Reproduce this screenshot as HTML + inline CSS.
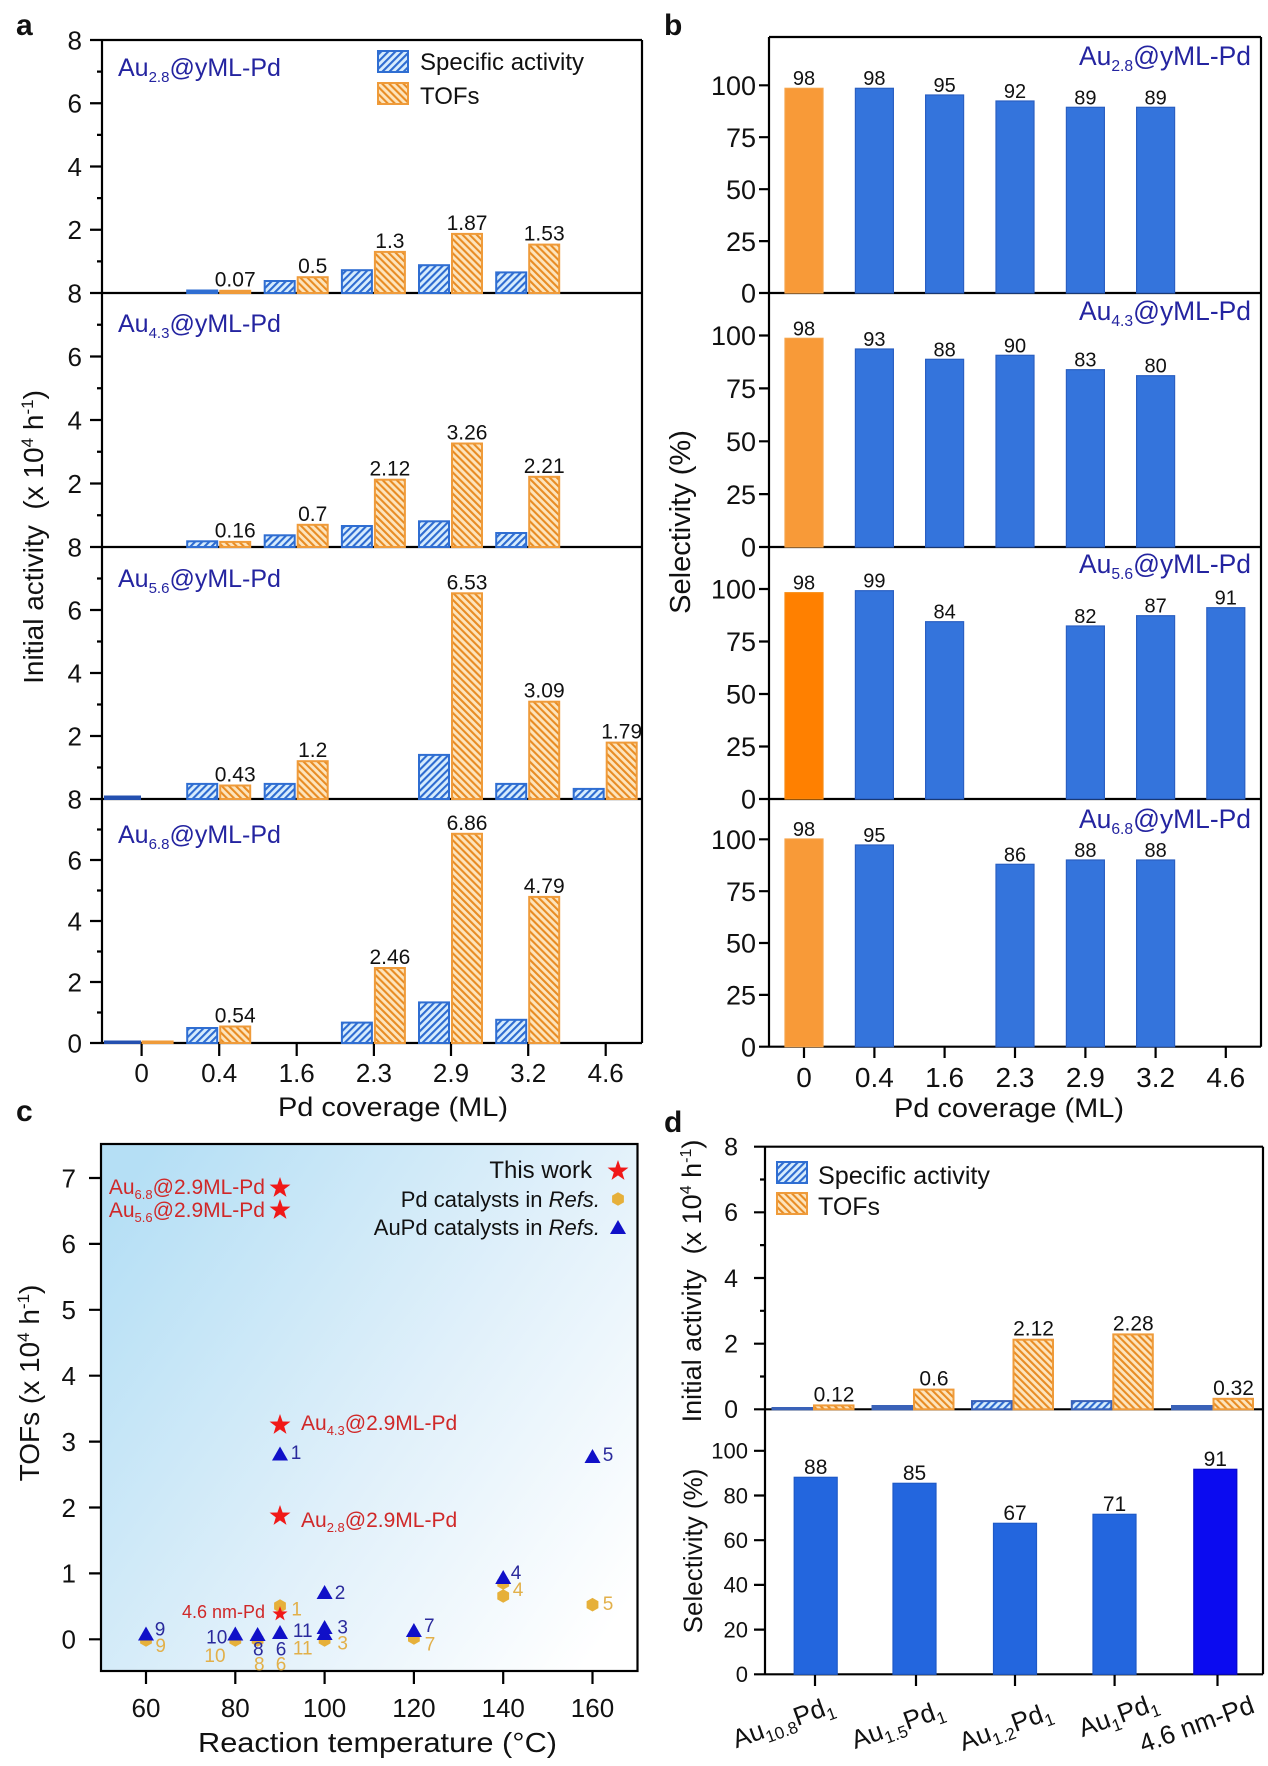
<!DOCTYPE html>
<html><head><meta charset="utf-8"><style>
html,body{margin:0;padding:0;background:#fff}
svg{display:block}
text{font-family:"Liberation Sans",Arial,sans-serif;fill:#111}
</style></head><body>
<svg width="1268" height="1766" viewBox="0 0 1268 1766" xmlns="http://www.w3.org/2000/svg">
<defs>
<pattern id="hb" patternUnits="userSpaceOnUse" width="5" height="5" patternTransform="rotate(45)">
<rect width="5" height="5" fill="#d6ecfd"/><rect width="2.1" height="5" fill="#2d6bd0"/></pattern>
<pattern id="ho" patternUnits="userSpaceOnUse" width="5" height="5" patternTransform="rotate(-45)">
<rect width="5" height="5" fill="#fde4bc"/><rect width="2.1" height="5" fill="#e88c24"/></pattern>
<linearGradient id="cg" x1="0" y1="0.15" x2="1" y2="0.85">
<stop offset="0" stop-color="#b5dff5"/><stop offset="0.55" stop-color="#e0f0fa"/><stop offset="1" stop-color="#ffffff"/></linearGradient>
<path id="star" d="M0,-11 L2.59,-3.56 L10.46,-3.4 L4.19,1.36 L6.47,8.9 L0,4.4 L-6.47,8.9 L-4.19,1.36 L-10.46,-3.4 L-2.59,-3.56Z" fill="#f01818"/>
<path id="tri" d="M-8,6 L8,6 L0,-8Z" fill="#1010c8"/>
<path id="hex" d="M0,-6.8 L5.9,-3.4 L5.9,3.4 L0,6.8 L-5.9,3.4 L-5.9,-3.4Z" fill="#e6b03a"/>
</defs>

<!-- ================= PANEL A ================= -->
<text x="16" y="35" font-size="30" font-weight="bold">a</text>
<g stroke="#000" stroke-width="2.2" fill="none">
<line x1="102" y1="40" x2="102" y2="1043"/>
<line x1="642" y1="40" x2="642" y2="1043"/>
<line x1="90" y1="40" x2="642" y2="40"/>
<line x1="90" y1="293" x2="642" y2="293"/>
<line x1="90" y1="547" x2="642" y2="547"/>
<line x1="90" y1="799" x2="642" y2="799"/>
<line x1="90" y1="1043" x2="642" y2="1043"/>
<path d="M90,229.75H102M90,166.5H102M90,103.25H102M90,483.5H102M90,420H102M90,356.5H102M90,736H102M90,673H102M90,610H102M90,982H102M90,921H102M90,860H102"/>
<path d="M97,261.4H102M97,198.1H102M97,134.9H102M97,71.6H102M97,515.25H102M97,451.75H102M97,388.25H102M97,324.75H102M97,767.5H102M97,704.5H102M97,641.5H102M97,578.5H102M97,1012.5H102M97,951.5H102M97,890.5H102M97,829.5H102"/>
<path d="M141.6,1043V1056M219.2,1043V1056M296.7,1043V1056M373.9,1043V1056M451,1043V1056M528.2,1043V1056M605.7,1043V1056"/>
</g>
<g font-size="26" text-anchor="end">
<text x="82" y="49.3">8</text><text x="82" y="112.6">6</text><text x="82" y="175.8">4</text><text x="82" y="239.1">2</text><text x="82" y="302.3">8</text>
<text x="82" y="365.8">6</text><text x="82" y="429.3">4</text><text x="82" y="492.8">2</text><text x="82" y="556.3">8</text>
<text x="82" y="619.3">6</text><text x="82" y="682.3">4</text><text x="82" y="745.3">2</text><text x="82" y="808.3">8</text>
<text x="82" y="869.3">6</text><text x="82" y="930.3">4</text><text x="82" y="991.3">2</text><text x="82" y="1052.3">0</text>
</g>
<g font-size="26" text-anchor="middle">
<text x="141.6" y="1082">0</text><text x="219.2" y="1082">0.4</text><text x="296.7" y="1082">1.6</text><text x="373.9" y="1082">2.3</text><text x="451" y="1082">2.9</text><text x="528.2" y="1082">3.2</text><text x="605.7" y="1082">4.6</text>
<text x="393" y="1116" font-size="27" textLength="230" lengthAdjust="spacingAndGlyphs">Pd coverage (ML)</text>
</g>
<text transform="translate(43,537) rotate(-90)" text-anchor="middle" font-size="28">Initial activity&#160;&#160;(x 10<tspan dy="-10" font-size="17">4</tspan><tspan dy="10"> h</tspan><tspan dy="-10" font-size="17">-1</tspan><tspan dy="10">)</tspan></text>

<!-- series labels a -->
<g font-size="25">
<text x="118" y="76" style="fill:#2424a0">Au<tspan font-size="15" dy="6">2.8</tspan><tspan dy="-6">@yML-Pd</tspan></text>
<text x="118" y="332" style="fill:#2424a0">Au<tspan font-size="15" dy="6">4.3</tspan><tspan dy="-6">@yML-Pd</tspan></text>
<text x="118" y="587" style="fill:#2424a0">Au<tspan font-size="15" dy="6">5.6</tspan><tspan dy="-6">@yML-Pd</tspan></text>
<text x="118" y="843" style="fill:#2424a0">Au<tspan font-size="15" dy="6">6.8</tspan><tspan dy="-6">@yML-Pd</tspan></text>
</g>
<!-- legend a -->
<rect x="378" y="51" width="30" height="21" fill="url(#hb)" stroke="#2f6ed2" stroke-width="2"/>
<rect x="378" y="83" width="30" height="21" fill="url(#ho)" stroke="#ef9b3a" stroke-width="2"/>
<text x="420" y="70" font-size="24">Specific activity</text>
<text x="420" y="104" font-size="24">TOFs</text>

<!-- bars a -->
<g stroke-width="2">
<g fill="url(#hb)" stroke="#2f6ed2">
<rect x="187.2" y="290.5" width="30" height="2.5" fill="#2f6ed2"/>
<rect x="264.7" y="281" width="30" height="12"/>
<rect x="341.9" y="270.2" width="30" height="22.8"/>
<rect x="419" y="265.2" width="30" height="27.8"/>
<rect x="496.2" y="272.4" width="30" height="20.6"/>
</g>
<g fill="url(#ho)" stroke="#ef9b3a">
<rect x="220.2" y="290.8" width="30" height="2.2" fill="#ef9b3a"/>
<rect x="297.7" y="277.2" width="30" height="15.8"/>
<rect x="374.9" y="251.9" width="30" height="41.1"/>
<rect x="452" y="233.9" width="30" height="59.1"/>
<rect x="529.2" y="244.6" width="30" height="48.4"/>
</g>
<g fill="url(#hb)" stroke="#2f6ed2">
<rect x="187.2" y="541.3" width="30" height="5.7"/>
<rect x="264.7" y="535.3" width="30" height="11.7"/>
<rect x="341.9" y="526" width="30" height="21"/>
<rect x="419" y="521.3" width="30" height="25.7"/>
<rect x="496.2" y="533" width="30" height="14"/>
</g>
<g fill="url(#ho)" stroke="#ef9b3a">
<rect x="220.2" y="541.9" width="30" height="5.1"/>
<rect x="297.7" y="524.8" width="30" height="22.2"/>
<rect x="374.9" y="479.7" width="30" height="67.3"/>
<rect x="452" y="443.5" width="30" height="103.5"/>
<rect x="529.2" y="476.8" width="30" height="70.2"/>
</g>
<g fill="url(#hb)" stroke="#2f6ed2">
<rect x="105" y="796.5" width="35" height="2.5" fill="#2450b0" stroke="#2450b0"/>
<rect x="187.2" y="783.9" width="30" height="15.1"/>
<rect x="264.7" y="783.9" width="30" height="15.1"/>
<rect x="419" y="754.9" width="30" height="44.1"/>
<rect x="496.2" y="783.9" width="30" height="15.1"/>
<rect x="573.7" y="788.9" width="30" height="10.1"/>
</g>
<g fill="url(#ho)" stroke="#ef9b3a">
<rect x="220.2" y="785.5" width="30" height="13.5"/>
<rect x="297.7" y="761.2" width="30" height="37.8"/>
<rect x="452" y="593.3" width="30" height="205.7"/>
<rect x="529.2" y="701.7" width="30" height="97.3"/>
<rect x="606.7" y="742.6" width="30" height="56.4"/>
</g>
<g fill="url(#hb)" stroke="#2f6ed2">
<rect x="105" y="1041.5" width="35" height="1.5" fill="#2450b0" stroke="#2450b0"/>
<rect x="187.2" y="1028" width="30" height="15"/>
<rect x="341.9" y="1022.6" width="30" height="20.4"/>
<rect x="419" y="1002.4" width="30" height="40.6"/>
<rect x="496.2" y="1019.8" width="30" height="23.2"/>
</g>
<g fill="url(#ho)" stroke="#ef9b3a">
<rect x="142.6" y="1041.5" width="30" height="1.5" fill="#ef9b3a"/>
<rect x="220.2" y="1026.5" width="30" height="16.5"/>
<rect x="374.9" y="968" width="30" height="75"/>
<rect x="452" y="833.8" width="30" height="209.2"/>
<rect x="529.2" y="896.9" width="30" height="146.1"/>
</g>
</g>
<g font-size="21" text-anchor="middle">
<text x="235.2" y="286.5">0.07</text><text x="312.7" y="273">0.5</text><text x="389.9" y="248">1.3</text><text x="467" y="230">1.87</text><text x="544.2" y="240.6">1.53</text>
<text x="235.2" y="537.5">0.16</text><text x="312.7" y="520.8">0.7</text><text x="389.9" y="475.7">2.12</text><text x="467" y="439.5">3.26</text><text x="544.2" y="472.8">2.21</text>
<text x="235.2" y="781.5">0.43</text><text x="312.7" y="757.2">1.2</text><text x="467" y="589.3">6.53</text><text x="544.2" y="697.7">3.09</text><text x="621.7" y="738.6">1.79</text>
<text x="235.2" y="1022.5">0.54</text><text x="389.9" y="964">2.46</text><text x="467" y="829.8">6.86</text><text x="544.2" y="892.9">4.79</text>
</g>

<!-- ================= PANEL B ================= -->
<text x="664" y="35" font-size="30" font-weight="bold">b</text>
<g stroke="#000" stroke-width="2.2" fill="none">
<line x1="769" y1="37" x2="769" y2="1046.7"/>
<line x1="1261" y1="37" x2="1261" y2="1046.7"/>
<line x1="769" y1="37" x2="1261" y2="37"/>
<line x1="759" y1="293" x2="1261" y2="293"/>
<line x1="759" y1="547" x2="1261" y2="547"/>
<line x1="759" y1="799" x2="1261" y2="799"/>
<line x1="759" y1="1046.7" x2="1261" y2="1046.7"/>
<path d="M759,241.1H769M759,189.2H769M759,137.2H769M759,85.3H769M759,494.1H769M759,441.3H769M759,388.4H769M759,335.5H769M759,746.5H769M759,694H769M759,641.5H769M759,589H769M759,994.9H769M759,943H769M759,891.2H769M759,839.3H769"/>
<path d="M804,1046.7V1058M874.4,1046.7V1058M944.6,1046.7V1058M1015,1046.7V1058M1085.4,1046.7V1058M1155.6,1046.7V1058M1225.8,1046.7V1058"/>
</g>
<g font-size="27" text-anchor="end">
<text x="756" y="95">100</text><text x="756" y="146.9">75</text><text x="756" y="198.9">50</text><text x="756" y="250.8">25</text><text x="756" y="302.7">0</text>
<text x="756" y="345.2">100</text><text x="756" y="398.1">75</text><text x="756" y="451">50</text><text x="756" y="503.8">25</text><text x="756" y="556.7">0</text>
<text x="756" y="598.7">100</text><text x="756" y="651.2">75</text><text x="756" y="703.7">50</text><text x="756" y="756.2">25</text><text x="756" y="808.7">0</text>
<text x="756" y="849">100</text><text x="756" y="900.9">75</text><text x="756" y="952.7">50</text><text x="756" y="1004.6">25</text><text x="756" y="1056.4">0</text>
</g>
<g font-size="28" text-anchor="middle">
<text x="804" y="1087">0</text><text x="874.4" y="1087">0.4</text><text x="944.6" y="1087">1.6</text><text x="1015" y="1087">2.3</text><text x="1085.4" y="1087">2.9</text><text x="1155.6" y="1087">3.2</text><text x="1225.8" y="1087">4.6</text>
<text x="1009" y="1117" font-size="27" textLength="230" lengthAdjust="spacingAndGlyphs">Pd coverage (ML)</text>
</g>
<text transform="translate(690,522) rotate(-90)" text-anchor="middle" font-size="29">Selectivity (%)</text>
<g font-size="27" text-anchor="end">
<text x="1251" y="65" textLength="172" lengthAdjust="spacingAndGlyphs" style="fill:#2424a0">Au<tspan font-size="16" dy="6">2.8</tspan><tspan dy="-6">@yML-Pd</tspan></text>
<text x="1251" y="320" textLength="172" lengthAdjust="spacingAndGlyphs" style="fill:#2424a0">Au<tspan font-size="16" dy="6">4.3</tspan><tspan dy="-6">@yML-Pd</tspan></text>
<text x="1251" y="573" textLength="172" lengthAdjust="spacingAndGlyphs" style="fill:#2424a0">Au<tspan font-size="16" dy="6">5.6</tspan><tspan dy="-6">@yML-Pd</tspan></text>
<text x="1251" y="828" textLength="172" lengthAdjust="spacingAndGlyphs" style="fill:#2424a0">Au<tspan font-size="16" dy="6">6.8</tspan><tspan dy="-6">@yML-Pd</tspan></text>
</g>
<g stroke-width="1.2">
<rect x="785" y="88.3" width="38" height="204.7" fill="#f89a38" stroke="#f6a44a"/>
<g fill="#3474dc" stroke="#2a5fc2">
<rect x="855.4" y="88.3" width="38" height="204.7"/>
<rect x="925.6" y="95" width="38" height="198"/>
<rect x="996" y="101" width="38" height="192"/>
<rect x="1066.4" y="107.3" width="38" height="185.7"/>
<rect x="1136.6" y="107.3" width="38" height="185.7"/>
</g>
<rect x="785" y="338.3" width="38" height="208.7" fill="#f89a38" stroke="#f6a44a"/>
<g fill="#3474dc" stroke="#2a5fc2">
<rect x="855.4" y="349" width="38" height="198"/>
<rect x="925.6" y="359.3" width="38" height="187.7"/>
<rect x="996" y="355.3" width="38" height="191.7"/>
<rect x="1066.4" y="369.7" width="38" height="177.3"/>
<rect x="1136.6" y="375.7" width="38" height="171.3"/>
</g>
<rect x="785" y="592.7" width="38" height="206.3" fill="#ff8000" stroke="#f88a10"/>
<g fill="#3474dc" stroke="#2a5fc2">
<rect x="855.4" y="590.7" width="38" height="208.3"/>
<rect x="925.6" y="621.7" width="38" height="177.3"/>
<rect x="1066.4" y="626" width="38" height="173"/>
<rect x="1136.6" y="615.7" width="38" height="183.3"/>
<rect x="1206.8" y="607.7" width="38" height="191.3"/>
</g>
<rect x="785" y="839" width="38" height="207.7" fill="#f89a38" stroke="#f6a44a"/>
<g fill="#3474dc" stroke="#2a5fc2">
<rect x="855.4" y="845" width="38" height="201.7"/>
<rect x="996" y="864.3" width="38" height="182.4"/>
<rect x="1066.4" y="860" width="38" height="186.7"/>
<rect x="1136.6" y="860" width="38" height="186.7"/>
</g>
</g>
<g font-size="20" text-anchor="middle">
<text x="804" y="85">98</text><text x="874.4" y="85">98</text><text x="944.6" y="92">95</text><text x="1015" y="98">92</text><text x="1085.4" y="104.3">89</text><text x="1155.6" y="104.3">89</text>
<text x="804" y="335.3">98</text><text x="874.4" y="346">93</text><text x="944.6" y="356.3">88</text><text x="1015" y="352.3">90</text><text x="1085.4" y="366.7">83</text><text x="1155.6" y="372.7">80</text>
<text x="804" y="589.7">98</text><text x="874.4" y="587.7">99</text><text x="944.6" y="618.7">84</text><text x="1085.4" y="623">82</text><text x="1155.6" y="612.7">87</text><text x="1225.8" y="604.7">91</text>
<text x="804" y="836">98</text><text x="874.4" y="842">95</text><text x="1015" y="861.3">86</text><text x="1085.4" y="857">88</text><text x="1155.6" y="857">88</text>
</g>

<!-- ================= PANEL C ================= -->
<text x="16" y="1121" font-size="30" font-weight="bold">c</text>
<rect x="101" y="1144" width="536.5" height="527" fill="url(#cg)" stroke="#000" stroke-width="2.2"/>
<g stroke="#000" stroke-width="2.2">
<path d="M89,1639.3H101M89,1573.4H101M89,1507.5H101M89,1441.6H101M89,1375.7H101M89,1309.8H101M89,1243.9H101M89,1178H101"/>
<path d="M146,1671V1684M235.3,1671V1684M324.6,1671V1684M413.9,1671V1684M503.2,1671V1684M592.5,1671V1684"/>
</g>
<g font-size="26" text-anchor="end">
<text x="76" y="1648.6">0</text><text x="76" y="1582.7">1</text><text x="76" y="1516.8">2</text><text x="76" y="1450.9">3</text><text x="76" y="1385">4</text><text x="76" y="1319.1">5</text><text x="76" y="1253.2">6</text><text x="76" y="1187.3">7</text>
</g>
<g font-size="26" text-anchor="middle">
<text x="146" y="1717">60</text><text x="235.3" y="1717">80</text><text x="324.6" y="1717">100</text><text x="413.9" y="1717">120</text><text x="503.2" y="1717">140</text><text x="592.5" y="1717">160</text>
<text x="377.5" y="1752" font-size="28" textLength="359" lengthAdjust="spacingAndGlyphs">Reaction temperature (°C)</text>
</g>
<text transform="translate(39,1383) rotate(-90)" text-anchor="middle" font-size="28">TOFs (x 10<tspan dy="-10" font-size="17">4</tspan><tspan dy="10"> h</tspan><tspan dy="-10" font-size="17">-1</tspan><tspan dy="10">)</tspan></text>
<g font-size="22" text-anchor="end">
<text x="592" y="1178" font-size="24">This work</text>
<text x="600" y="1207">Pd catalysts in <tspan font-style="italic">Refs.</tspan></text>
<text x="600" y="1235">AuPd catalysts in <tspan font-style="italic">Refs.</tspan></text>
</g>
<use href="#star" x="618" y="1171"/>
<use href="#hex" x="618" y="1199"/>
<use href="#tri" x="618" y="1228"/>
<use href="#hex" x="280" y="1606"/>
<use href="#hex" x="503.2" y="1583"/>
<use href="#hex" x="503.2" y="1596"/>
<use href="#hex" x="592.5" y="1604.7"/>
<use href="#hex" x="146" y="1640"/>
<use href="#hex" x="235.3" y="1640"/>
<use href="#hex" x="324.6" y="1640"/>
<use href="#hex" x="413.9" y="1638"/>
<use href="#hex" x="257.6" y="1640"/>
<use href="#tri" x="280" y="1454.5"/>
<use href="#tri" x="592.5" y="1457"/>
<use href="#tri" x="324.6" y="1593"/>
<use href="#tri" x="503.2" y="1578"/>
<use href="#tri" x="324.6" y="1628"/>
<use href="#tri" x="324.6" y="1634"/>
<use href="#tri" x="413.9" y="1631"/>
<use href="#tri" x="146" y="1634.5"/>
<use href="#tri" x="235.3" y="1634.5"/>
<use href="#tri" x="257.6" y="1635"/>
<use href="#tri" x="280" y="1633"/>
<use href="#star" x="280" y="1188"/>
<use href="#star" x="280" y="1210"/>
<use href="#star" x="280" y="1425"/>
<use href="#star" x="280" y="1516"/>
<use href="#star" transform="translate(280,1614) scale(0.72)"/>
<g font-size="21">
<text x="265" y="1194" text-anchor="end" style="fill:#d02828">Au<tspan font-size="13" dy="5">6.8</tspan><tspan dy="-5">@2.9ML-Pd</tspan></text>
<text x="265" y="1217" text-anchor="end" style="fill:#d02828">Au<tspan font-size="13" dy="5">5.6</tspan><tspan dy="-5">@2.9ML-Pd</tspan></text>
<text x="301" y="1430" style="fill:#d02828">Au<tspan font-size="13" dy="5">4.3</tspan><tspan dy="-5">@2.9ML-Pd</tspan></text>
<text x="301" y="1527" style="fill:#d02828">Au<tspan font-size="13" dy="5">2.8</tspan><tspan dy="-5">@2.9ML-Pd</tspan></text>
<text x="265" y="1618" text-anchor="end" font-size="18" style="fill:#d02828">4.6 nm-Pd</text>
</g>
<g font-size="19" text-anchor="middle">
<text x="296" y="1459" style="fill:#2a2a9c">1</text>
<text x="608" y="1461" style="fill:#2a2a9c">5</text>
<text x="340" y="1599" style="fill:#2a2a9c">2</text>
<text x="516" y="1579" style="fill:#2a2a9c">4</text>
<text x="342.7" y="1633.7" style="fill:#2a2a9c">3</text>
<text x="429.3" y="1632" style="fill:#2a2a9c">7</text>
<text x="160" y="1635.3" style="fill:#2a2a9c">9</text>
<text x="216.7" y="1643.7" style="fill:#2a2a9c">10</text>
<text x="258.3" y="1655.3" style="fill:#2a2a9c">8</text>
<text x="281" y="1655.3" style="fill:#2a2a9c">6</text>
<text x="302.7" y="1637" style="fill:#2a2a9c">11</text>
<text x="296.7" y="1615.3" style="fill:#e2b04a">1</text>
<text x="518" y="1596" style="fill:#e2b04a">4</text>
<text x="608" y="1610" style="fill:#e2b04a">5</text>
<text x="342.7" y="1649.7" style="fill:#e2b04a">3</text>
<text x="430" y="1650.3" style="fill:#e2b04a">7</text>
<text x="160.7" y="1652" style="fill:#e2b04a">9</text>
<text x="215" y="1662" style="fill:#e2b04a">10</text>
<text x="259.3" y="1670.3" style="fill:#e2b04a">8</text>
<text x="281" y="1670.3" style="fill:#e2b04a">6</text>
<text x="302.7" y="1654.7" style="fill:#e2b04a">11</text>
</g>

<!-- ================= PANEL D ================= -->
<text x="664" y="1132" font-size="30" font-weight="bold">d</text>
<g stroke="#000" stroke-width="2.2" fill="none">
<line x1="765" y1="1146.7" x2="765" y2="1674.3"/>
<line x1="1263" y1="1146.7" x2="1263" y2="1674.3"/>
<line x1="754" y1="1146.7" x2="1263" y2="1146.7"/>
<line x1="754" y1="1409.3" x2="1263" y2="1409.3"/>
<line x1="754" y1="1674.3" x2="1263" y2="1674.3"/>
<path d="M754,1212.3H765M754,1278H765M754,1343.7H765"/>
<path d="M760,1376.5H765M760,1310.8H765M760,1245.1H765M760,1179.5H765"/>
<path d="M754,1450.8H765M754,1495.5H765M754,1540.2H765M754,1584.9H765M754,1629.6H765"/>
<path d="M815,1674.3V1686M916,1674.3V1686M1015,1674.3V1686M1114.6,1674.3V1686M1217.5,1674.3V1686"/>
</g>
<g font-size="25" text-anchor="end">
<text x="738" y="1155.6">8</text><text x="738" y="1221.2">6</text><text x="738" y="1286.9">4</text><text x="738" y="1352.6">2</text><text x="738" y="1418.2">0</text>
</g>
<g font-size="22" text-anchor="end">
<text x="748" y="1458.6">100</text><text x="748" y="1503.3">80</text><text x="748" y="1548">60</text><text x="748" y="1592.7">40</text><text x="748" y="1637.4">20</text><text x="748" y="1682.1">0</text>
</g>
<text transform="translate(701,1281) rotate(-90)" text-anchor="middle" font-size="27">Initial activity&#160;&#160;(x 10<tspan dy="-10" font-size="16">4</tspan><tspan dy="10"> h</tspan><tspan dy="-10" font-size="16">-1</tspan><tspan dy="10">)</tspan></text>
<text transform="translate(702,1551) rotate(-90)" text-anchor="middle" font-size="26">Selectivity (%)</text>
<rect x="777" y="1162" width="30" height="21" fill="url(#hb)" stroke="#2f6ed2" stroke-width="2"/>
<rect x="777" y="1193" width="30" height="21" fill="url(#ho)" stroke="#ef9b3a" stroke-width="2"/>
<text x="818" y="1184" font-size="25" textLength="172" lengthAdjust="spacingAndGlyphs">Specific activity</text>
<text x="818" y="1215" font-size="25">TOFs</text>
<g stroke-width="2">
<g fill="url(#hb)" stroke="#3a62b8">
<rect x="772.5" y="1408" width="39.5" height="1.3" fill="#3a62b8"/>
<rect x="872.5" y="1406" width="39.5" height="3.3" fill="#3a62b8"/>
<rect x="972" y="1401.1" width="39.5" height="8.2"/>
<rect x="1071.8" y="1401.1" width="39.5" height="8.2"/>
<rect x="1172" y="1406" width="39.5" height="3.3" fill="#3a62b8"/>
</g>
<g fill="url(#ho)" stroke="#ef9b3a">
<rect x="814" y="1405.4" width="39.5" height="3.9"/>
<rect x="914" y="1389.6" width="39.5" height="19.7"/>
<rect x="1013.5" y="1339.7" width="39.5" height="69.6"/>
<rect x="1113.3" y="1334.4" width="39.5" height="74.9"/>
<rect x="1213.5" y="1398.8" width="39.5" height="10.5"/>
</g>
</g>
<g font-size="21" text-anchor="middle">
<text x="834" y="1401.4">0.12</text><text x="934" y="1385.6">0.6</text><text x="1033.5" y="1335.7">2.12</text><text x="1133.3" y="1330.4">2.28</text><text x="1233.5" y="1394.8">0.32</text>
</g>
<g stroke-width="1.2">
<rect x="794.2" y="1477.3" width="43" height="197" fill="#2366de" stroke="#1e5ac8"/>
<rect x="893" y="1483.3" width="43" height="191" fill="#2366de" stroke="#1e5ac8"/>
<rect x="993.5" y="1523.3" width="43" height="151" fill="#2366de" stroke="#1e5ac8"/>
<rect x="1093" y="1514.3" width="43" height="160" fill="#2366de" stroke="#1e5ac8"/>
<rect x="1193.8" y="1469.3" width="43" height="205" fill="#0b0bf0" stroke="#0808c8"/>
</g>
<g font-size="21" text-anchor="middle">
<text x="815.7" y="1474">88</text><text x="914.5" y="1480">85</text><text x="1015" y="1520">67</text><text x="1114.5" y="1511">71</text><text x="1215.3" y="1466">91</text>
</g>
<g font-size="26" text-anchor="end">
<text transform="translate(836,1712) rotate(-20)">Au<tspan font-size="17" dy="6">10.8</tspan><tspan dy="-6">Pd</tspan><tspan font-size="17" dy="6">1</tspan></text>
<text transform="translate(946,1716) rotate(-20)">Au<tspan font-size="17" dy="6">1.5</tspan><tspan dy="-6">Pd</tspan><tspan font-size="17" dy="6">1</tspan></text>
<text transform="translate(1054,1718) rotate(-20)">Au<tspan font-size="17" dy="6">1.2</tspan><tspan dy="-6">Pd</tspan><tspan font-size="17" dy="6">1</tspan></text>
<text transform="translate(1160,1709) rotate(-20)">Au<tspan font-size="17" dy="6">1</tspan><tspan dy="-6">Pd</tspan><tspan font-size="17" dy="6">1</tspan></text>
<text transform="translate(1256,1712) rotate(-20)">4.6 nm-Pd</text>
</g>
</svg>
</body></html>
